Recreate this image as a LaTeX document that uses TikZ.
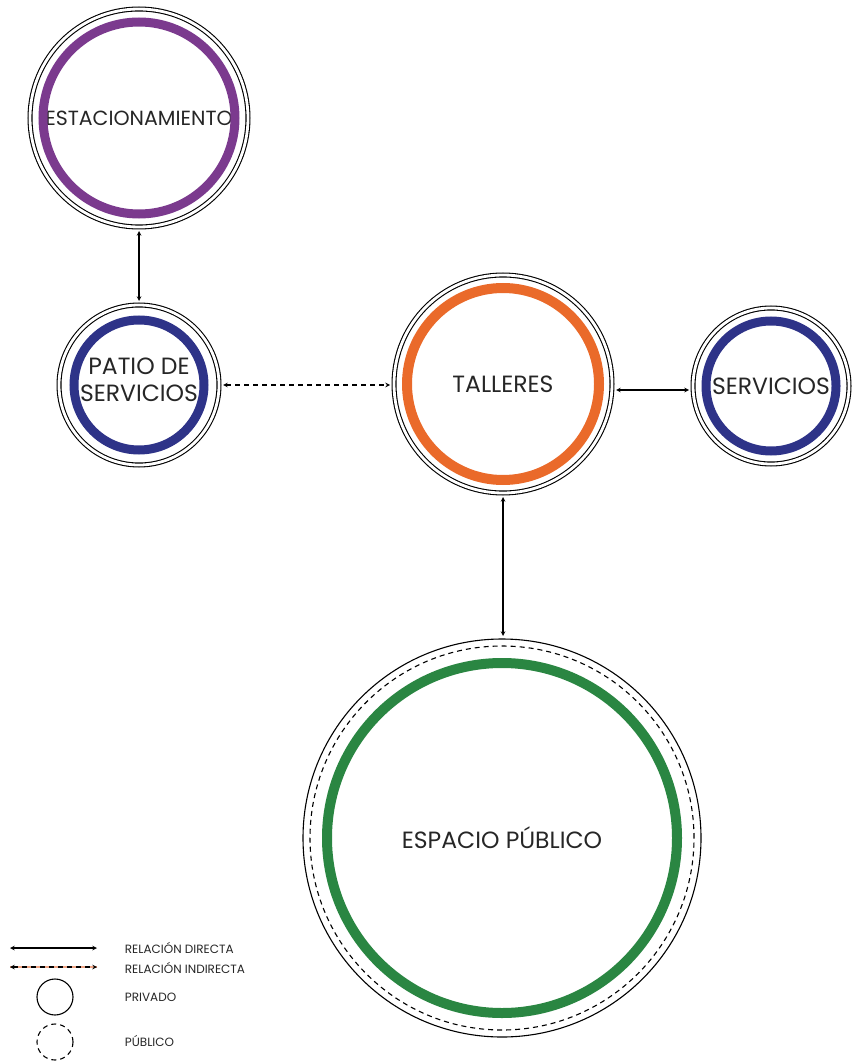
\documentclass[tikz,border=0pt]{standalone}
\usepackage{fontspec}
\setmainfont{Poppins}

\definecolor{morado}{HTML}{7B3A8E}
\definecolor{azul}{HTML}{2E3388}
\definecolor{naranja}{HTML}{EA6A2A}
\definecolor{verde}{HTML}{2A8642}
\definecolor{salmon}{HTML}{F0A585}

\begin{document}
\begin{tikzpicture}[x=1pt, y=-1pt, >=stealth, line width=1.1pt]
    \tikzstyle{zona}=[circle, draw=black, double, double distance=2.8pt, inner sep=0pt, outer sep=4pt, text=black!85, font=\fontsize{23.5}{27}\selectfont, align=center]
    \tikzstyle{publica}=[circle, draw=black, inner sep=0pt, outer sep=3pt, text=black!85, font=\fontsize{23.5}{27}\selectfont, align=center]
    \tikzstyle{anillo}=[line width=9pt]
    \tikzstyle{leyenda}=[anchor=west, text=black!85, font=\fontsize{12}{14}\selectfont]
    \tikzstyle{punteado}=[dash pattern=on 5pt off 4pt]
    \useasboundingbox (0,0) rectangle (852,1064);

    \node[zona, minimum size=218pt, font=\fontsize{20.5}{24}\selectfont] (est) at (139,118) {ESTACIONAMIENTO};
    \node[zona, minimum size=160pt] (pat) at (139,385) {PATIO DE\\SERVICIOS\rule[-10pt]{0pt}{0pt}};
    \node[zona, minimum size=218pt] (tal) at (503,384) {TALLERES};
    \node[zona, minimum size=156pt] (ser) at (771,386) {SERVICIOS};
    \node[publica, minimum size=398pt] (esp) at (502,838) {ESPACIO PÚBLICO};

    \draw[anillo, morado] (est.center) circle[radius=96pt];
    \draw[anillo, azul] (pat.center) circle[radius=65pt];
    \draw[anillo, line width=10pt, naranja] (tal.center) circle[radius=96pt];
    \draw[anillo, azul] (ser.center) circle[radius=65pt];
    \draw[anillo, line width=10pt, verde] (esp.center) circle[radius=175pt];
    \draw[punteado] (esp.center) circle[radius=192pt];

    \draw[<->] (est) -- (pat);
    \draw[<->, punteado] (pat) -- (pat -| tal.west);
    \draw[<->] ([yshift=-6pt]tal.east) -- ([yshift=-6pt]tal.east -| ser.west);
    \draw[<->] (tal.south) -- (tal.south |- esp.north);

    % leyenda
    \coordinate (dir1) at (10,948);
    \coordinate (dir2) at (97,948);
    \coordinate (ind1) at (10,967);
    \coordinate (ind2) at (97,967);
    \draw[<->] (dir1) -- (dir2);
    \draw[salmon] (ind1) -- (ind2);
    \draw[<->, punteado] (ind1) -- (ind2);
    \draw (55,997) circle[radius=18pt];
    \draw[punteado] (55,1042) circle[radius=18pt];
    \node[leyenda] (ldir) at (121,948) {RELACIÓN DIRECTA};
    \node[leyenda] (lind) at (121,968) {RELACIÓN INDIRECTA};
    \node[leyenda] (lpri) at (121,997) {PRIVADO};
    \node[leyenda] (lpub) at (121,1041) {PÚBLICO};
  \end{tikzpicture}
\end{document}
